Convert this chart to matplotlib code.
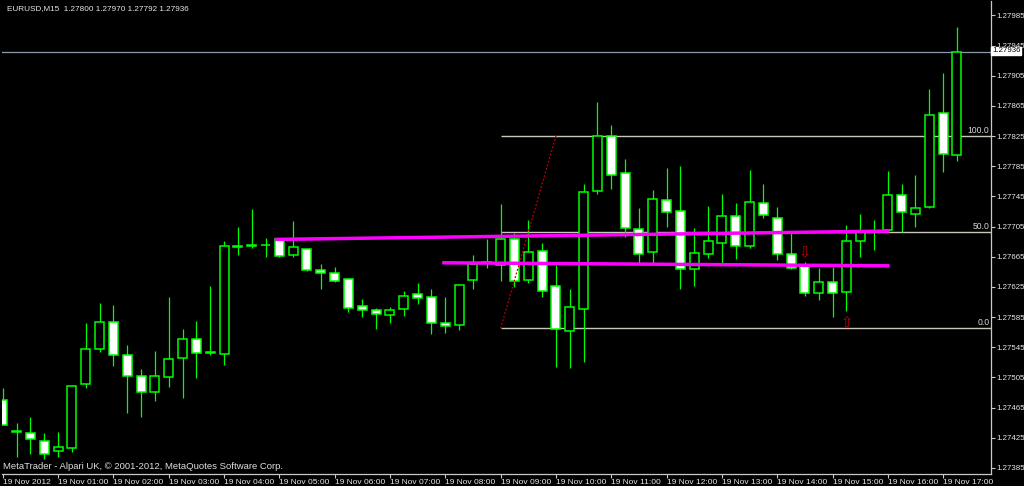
import numpy as np
import matplotlib
matplotlib.use("Agg")
from matplotlib import pyplot as plt

# EURUSD M15, 19 Nov 2012, bars 00:00 .. 17:15
opens = [1.27475, 1.27434, 1.27431, 1.27421, 1.27408, 1.27411, 1.27496, 1.27543, 1.27578, 1.27535,
         1.27507, 1.27486, 1.27506, 1.27531, 1.27556, 1.27538, 1.27536, 1.27679, 1.27680, 1.27681,
         1.27688, 1.27667, 1.27675, 1.27647, 1.27643, 1.27635, 1.27600, 1.27594, 1.27588, 1.27596,
         1.27615, 1.27612, 1.27577, 1.27574, 1.27634, 1.27657, 1.27654, 1.27688, 1.27634, 1.27672,
         1.27626, 1.27566, 1.27596, 1.27752, 1.27825, 1.27776, 1.27702, 1.27671, 1.27740, 1.27725,
         1.27649, 1.27668, 1.27683, 1.27719, 1.27679, 1.27736, 1.27716, 1.27668, 1.27654, 1.27617,
         1.27631, 1.27618, 1.27686, 1.27698, 1.27700, 1.27747, 1.27721, 1.27731, 1.27856, 1.27800]
highs = [1.27491, 1.27445, 1.27453, 1.27431, 1.27433, 1.27495, 1.27577, 1.27604, 1.27601, 1.27548,
         1.27516, 1.27540, 1.27612, 1.27569, 1.27580, 1.27626, 1.27686, 1.27704, 1.27728, 1.27690,
         1.27690, 1.27712, 1.27676, 1.27655, 1.27651, 1.27637, 1.27609, 1.27597, 1.27598, 1.27619,
         1.27630, 1.27622, 1.27612, 1.27627, 1.27667, 1.27688, 1.27735, 1.27696, 1.27714, 1.27683,
         1.27654, 1.27622, 1.27762, 1.27870, 1.27839, 1.27794, 1.27729, 1.27753, 1.27782, 1.27785,
         1.27703, 1.27732, 1.27748, 1.27736, 1.27780, 1.27762, 1.27731, 1.27696, 1.27658, 1.27650,
         1.27651, 1.27707, 1.27721, 1.27714, 1.27778, 1.27761, 1.27774, 1.27887, 1.27908, 1.27970]
lows = [1.27442, 1.27400, 1.27403, 1.27397, 1.27400, 1.27406, 1.27491, 1.27539, 1.27520, 1.27458,
        1.27453, 1.27474, 1.27492, 1.27478, 1.27504, 1.27535, 1.27521, 1.27667, 1.27676, 1.27664,
        1.27664, 1.27665, 1.27646, 1.27622, 1.27631, 1.27592, 1.27585, 1.27569, 1.27577, 1.27586,
        1.27602, 1.27562, 1.27564, 1.27568, 1.27622, 1.27650, 1.27633, 1.27625, 1.27630, 1.27612,
        1.27519, 1.27517, 1.27525, 1.27748, 1.27755, 1.27691, 1.27657, 1.27657, 1.27704, 1.27622,
        1.27626, 1.27663, 1.27657, 1.27662, 1.27676, 1.27717, 1.27661, 1.27649, 1.27613, 1.27607,
        1.27585, 1.27593, 1.27664, 1.27674, 1.27698, 1.27698, 1.27705, 1.27729, 1.27777, 1.27792]
closes = [1.27442, 1.27433, 1.27423, 1.27403, 1.27413, 1.27494, 1.27543, 1.27578, 1.27535, 1.27507,
          1.27486, 1.27507, 1.27529, 1.27556, 1.27537, 1.27539, 1.27679, 1.27678, 1.27679, 1.27680,
          1.27666, 1.27678, 1.27647, 1.27643, 1.27633, 1.27597, 1.27594, 1.27589, 1.27594, 1.27613,
          1.27610, 1.27577, 1.27573, 1.27627, 1.27655, 1.27658, 1.27688, 1.27633, 1.27671, 1.27619,
          1.27569, 1.27598, 1.27751, 1.27825, 1.27774, 1.27703, 1.27668, 1.27741, 1.27724, 1.27649,
          1.27670, 1.27686, 1.27719, 1.27679, 1.27737, 1.27720, 1.27668, 1.27650, 1.27617, 1.27631,
          1.27617, 1.27686, 1.27698, 1.27699, 1.27747, 1.27724, 1.27729, 1.27853, 1.27801, 1.27936]

time_labels = ["19 Nov 2012"] + ["19 Nov %02d:00" % h for h in range(1, 18)]
price_ticks = [1.27385, 1.27425, 1.27465, 1.27505, 1.27545, 1.27585, 1.27625, 1.27665,
               1.27705, 1.27745, 1.27785, 1.27825, 1.27865, 1.27905, 1.27945, 1.27985]
bid = 1.27936

# fibo retracement drawn from bar 36 to bar 40
fib_bars = [36, 40]
fib_prices = [1.27570, 1.27825]
fib_levels = [0.0, 50.0, 100.0]

# magenta lines (bar index, price)
upper_line_bars = [19.8, 64.0]
upper_line_prices = [1.27688, 1.27699]
lower_line_bars = [31.9, 64.0]
lower_line_prices = [1.27657, 1.27653]

# signal arrows
down_arrow = (58, 1.27670)
up_arrow = (61, 1.27578)

FONT = "Liberation Sans"
GREEN = "#00ff00"
AX = "#c8c8c8"

fig = plt.figure(figsize=(10.24, 4.86), dpi=100, facecolor="black")
ax = fig.add_axes([1.5 / 1024, 12 / 486, 989.5 / 1024, 473 / 486], facecolor="black")

n = len(opens)
x = np.arange(n)
o = np.array(opens)
c = np.array(closes)

ax.vlines(x, lows, highs, color=GREEN, lw=0.9, zorder=2)
bull = c >= o
ax.bar(x[bull], c[bull] - o[bull], bottom=o[bull], width=0.65, color="black",
       edgecolor=GREEN, linewidth=1.1, zorder=3)
ax.bar(x[~bull], o[~bull] - c[~bull], bottom=c[~bull], width=0.65, color="white",
       edgecolor=GREEN, linewidth=1.1, zorder=3)

# bid line
ax.axhline(bid, color="#8c9aa8", lw=0.9, zorder=1)

# fibo
lo, hi = fib_prices
ax.plot(fib_bars, fib_prices, color="#c00000", lw=0.9, ls=(0, (1.5, 1.5)), zorder=4)
for lev in fib_levels:
    p = lo + (hi - lo) * lev / 100
    ax.hlines(p, fib_bars[0], 80, color="#c8c8b8", lw=1.0, zorder=1)
    ax.text(71.35, p + 0.00002, "%.1f" % lev, color="#d8d8d8", fontsize=6.2, family=FONT,
            ha="right", va="bottom", zorder=5)

ax.plot(upper_line_bars, upper_line_prices, color="#ff00ff", lw=2.5, zorder=5)
ax.plot(lower_line_bars, lower_line_prices, color="#ff00ff", lw=2.5, zorder=5)

ax.text(down_arrow[0], down_arrow[1], "\u21e9", color="#c00000", fontsize=10.5,
        family="DejaVu Sans", ha="center", va="center", zorder=6)
ax.text(up_arrow[0], up_arrow[1], "\u21e7", color="#c00000", fontsize=10.5,
        family="DejaVu Sans", ha="center", va="center", zorder=6)

ax.set_xlim(-0.09, 71.46)
ax.set_ylim(1.27377, 1.28004)

for s in ["left", "top"]:
    ax.spines[s].set_visible(False)
for s in ["right", "bottom"]:
    ax.spines[s].set_color(AX)
    ax.spines[s].set_linewidth(0.9)

ax.yaxis.tick_right()
ax.set_yticks(price_ticks)
ax.set_yticklabels(["%.5f" % t for t in price_ticks])
ax.set_xticks(np.arange(0, 4 * len(time_labels), 4))
ax.set_xticklabels(time_labels, ha="left")
ax.tick_params(axis="both", colors=AX, labelcolor="#e8e8e8", labelsize=6.0,
               length=3, width=0.8)
ax.tick_params(axis="y", pad=0.8, labelsize=5.7)
ax.tick_params(axis="x", pad=0.8)
for lab in ax.get_xticklabels() + ax.get_yticklabels():
    lab.set_family(FONT)

# current price box on the price scale
fig.text(992 / 1024, 1 - 51 / 486, "%.5f" % bid, color="black", fontsize=5.7, family=FONT,
         ha="left", va="center",
         bbox=dict(boxstyle="square,pad=0.12", fc="white", ec="white"), zorder=10)

fig.text(7 / 1024, 1 - 9 / 486, "EURUSD,M15  1.27800 1.27970 1.27792 1.27936",
         color="#e8e8e8", fontsize=5.9, family=FONT, ha="left", va="center")
fig.text(3 / 1024, 1 - 466 / 486, "MetaTrader - Alpari UK, \u00a9 2001-2012, MetaQuotes Software Corp.",
         color="#e0e0e0", fontsize=6.8, family=FONT, ha="left", va="center")

fig.savefig("out.png", dpi=100, facecolor="black")
